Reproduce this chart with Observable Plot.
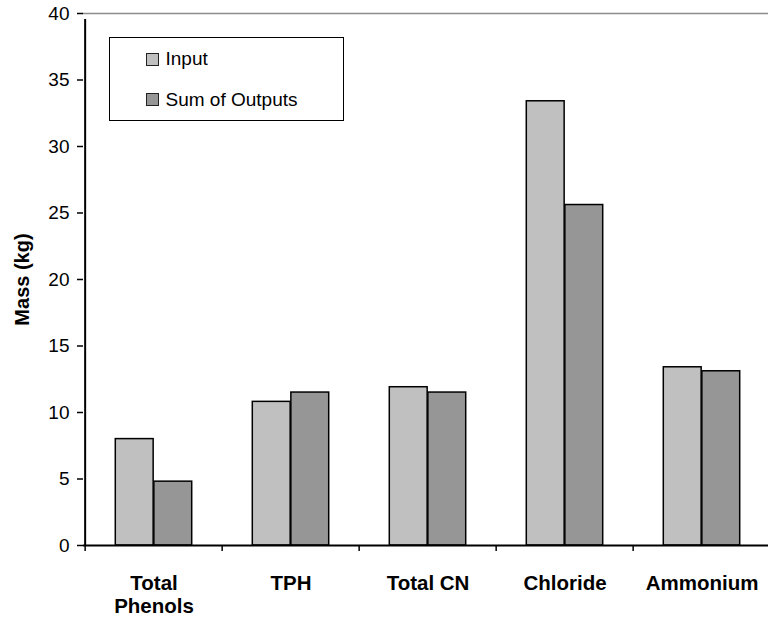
<!DOCTYPE html>
<html>
<head>
<meta charset="utf-8">
<script src="https://cdn.jsdelivr.net/npm/d3@7"></script>
<script src="https://cdn.jsdelivr.net/npm/@observablehq/plot@0.6"></script>
<style>
  html, body { margin: 0; padding: 0; background: #fff; }
  #chart { position: relative; width: 768px; height: 619px; font-family: "Liberation Sans", Arial, sans-serif; }
  .legend-box { position: absolute; box-sizing: border-box; border: 1.5px solid #000; background: #fff; }
  .legend-swatch { position: absolute; box-sizing: border-box; width: 13px; height: 13px; border: 1.5px solid #222; }
  .legend-label { position: absolute; font-size: 19px; line-height: 1; white-space: nowrap; color: #000; }
</style>
</head>
<body>
<div id="chart"></div>
<script>
// Mass balance per constituent: input vs. sum of outputs (kg)
const categories = ["Total Phenols", "TPH", "Total CN", "Chloride", "Ammonium"];
const categoryLabels = ["Total\nPhenols", "TPH", "Total CN", "Chloride", "Ammonium"];
const seriesNames = ["Input", "Sum of Outputs"];
const seriesColors = ["#c0c0c0", "#969696"];
const inputMass = [8.0, 10.8, 11.9, 33.4, 13.4];
const outputMass = [4.8, 11.5, 11.5, 25.6, 13.1];
const yTicks = [0, 5, 10, 15, 20, 25, 30, 35, 40];

const font = '"Liberation Sans", Arial, sans-serif';
const xRange = [83, 771.5];
const step = (xRange[1] - xRange[0]) / categories.length;
const gap = step * 0.22;          // empty space on each side of a bar pair
const half = step / 2;

const inputRows = categories.map((c, i) => ({category: c, value: inputMass[i]}));
const outputRows = categories.map((c, i) => ({category: c, value: outputMass[i]}));

const chart = Plot.plot({
  width: 768,
  height: 619,
  marginLeft: 83,
  marginRight: 0,
  marginTop: 13,
  marginBottom: 74,
  style: {fontFamily: font, background: "#fff", color: "#000"},
  x: {domain: categories, range: xRange, padding: 0, axis: null},
  y: {domain: [0, 40]},
  marks: [
    Plot.ruleY([40], {stroke: "#8c8c8c", strokeWidth: 1.5}),
    Plot.barY(inputRows, {
      x: "category", y1: 0, y2: "value",
      fill: seriesColors[0], stroke: "#000", strokeWidth: 1.5,
      insetLeft: gap, insetRight: half
    }),
    Plot.barY(outputRows, {
      x: "category", y1: 0, y2: "value",
      fill: seriesColors[1], stroke: "#000", strokeWidth: 1.5,
      insetLeft: half, insetRight: gap
    }),
    Plot.axisY(yTicks, {
      tickSize: 6, tickPadding: 8, fontSize: 19, strokeWidth: 1.5, label: null
    }),
    // value axis line
    Plot.ruleX([categories[0]], {dx: -half, y1: 0, y2: 40, insetBottom: -6, strokeWidth: 2}),
    // category axis line and boundary ticks
    Plot.ruleY([0], {strokeWidth: 2}),
    Plot.ruleX(categories, {dx: -half, y1: 0, y2: 0, insetBottom: -6, strokeWidth: 1.5}),
    Plot.text(categories, {
      x: (d) => d, text: (d, i) => categoryLabels[i],
      frameAnchor: "bottom", lineAnchor: "top", dy: 28,
      fontSize: 20.5, fontWeight: "bold", lineHeight: 1.12
    }),
    Plot.text(["Mass (kg)"], {
      frameAnchor: "left", textAnchor: "middle", lineAnchor: "middle",
      rotate: -90, dx: -60.5,
      fontSize: 20, fontWeight: "bold"
    })
  ]
});

const root = document.getElementById("chart");
root.appendChild(chart);

// Legend box inside the plot area
const box = document.createElement("div");
box.className = "legend-box";
Object.assign(box.style, {left: "109px", top: "37px", width: "235px", height: "84px"});
root.appendChild(box);

const rowBaselines = [65.5, 105.7];
seriesNames.forEach((name, i) => {
  const sw = document.createElement("div");
  sw.className = "legend-swatch";
  Object.assign(sw.style, {left: "146px", top: (rowBaselines[i] - 12.7) + "px", background: seriesColors[i]});
  root.appendChild(sw);
  const lab = document.createElement("div");
  lab.className = "legend-label";
  lab.textContent = name;
  Object.assign(lab.style, {left: "165.5px", top: (rowBaselines[i] - 16.1) + "px"});
  root.appendChild(lab);
});
</script>
</body>
</html>
